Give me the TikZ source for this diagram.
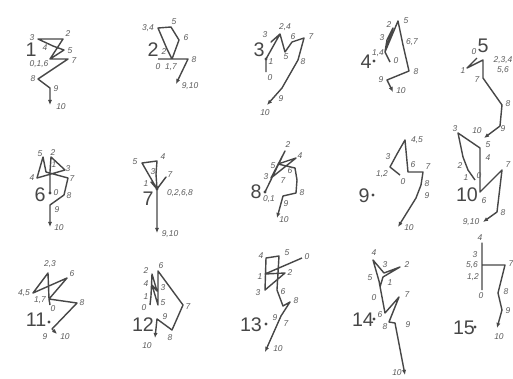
\documentclass[tikz,border=0pt]{standalone}
\usepackage{fontspec}
\setmainfont{Liberation Sans}
\usetikzlibrary{arrows.meta}
\definecolor{ink}{HTML}{474747}
\definecolor{inkgray}{HTML}{5C5C5C}
\definecolor{paper}{HTML}{FFFFFF}

\begin{document}
\begin{tikzpicture}[x=0.25mm,y=-0.25mm,>={Latex[length=3.6pt,width=3pt]},
  trace/.style={draw=ink,line width=1pt,line join=round,->},
  lab/.style={font=\fontsize{6}{6}\selectfont\itshape,text=inkgray,inner sep=0pt},
  numeral/.style={font=\fontsize{14}{14}\selectfont,text=ink,inner sep=0pt},
  dotmark/.style={circle,fill=ink,inner sep=0pt,minimum size=2.4pt}]
  \useasboundingbox[fill=paper] (0,0) rectangle (513,379);

  % 1
  \node[numeral] (n1) at (31,50) {1};
  \foreach \k/\x/\y in {0/50/59,1/50/59,2/63/39,3/38/39,4/53/46,5/64/50,6/50/59,7/68/59,8/38/79,9/50/88,10/50/105}
    \coordinate (f1-\k) at (\x,\y);
  \draw[trace] (f1-0) \foreach \k in {1,...,10} {-- (f1-\k)};
  \foreach \t/\x/\y [count=\i] in {3/32/38,2/68/34,4/45/48,5/70/51,{0,1,6}/39/64,7/74/61,8/33/79,9/56/89,10/61/107}
    \node[lab] (f1-l\i) at (\x,\y) {\t};

  % 2
  \node[numeral] (n2) at (153,50) {2};
  \foreach \k/\x/\y in {0/158/59,1/172/59,2/167/49,3/158/28,4/158/28,5/171/27,6/179/40,7/172/59,8/188/59,9/176/84,10/176/84}
    \coordinate (f2-\k) at (\x,\y);
  \draw[trace] (f2-0) \foreach \k in {1,...,8,10} {-- (f2-\k)};
  \foreach \t/\x/\y [count=\i] in {{3,4}/148/28,5/174/22,2/164/52,0/158/67,{1,7}/171/67,6/186/38,8/194/60,{9,10}/190/86}
    \node[lab] (f2-l\i) at (\x,\y) {\t};

  % 3
  \node[numeral] (n3) at (259,50) {3};
  \foreach \k/\x/\y in {0/266/72,1/266/59,2/280/34,3/271/42,4/280/34,5/285/52,6/292/42,7/304/38,8/298/60,9/282/88,10/267/105}
    \coordinate (f3-\k) at (\x,\y);
  \draw[trace] (f3-0) \foreach \k in {1,...,10} {-- (f3-\k)};
  \node[dotmark] (f3-d) at (f3-1) {};
  \foreach \t/\x/\y [count=\i] in {0/270/78,1/271/62,{2,4}/285/27,3/265/35,5/286/57,6/293/37,7/311/37,8/303/62,9/281/99,10/265/113}
    \node[lab] (f3-l\i) at (\x,\y) {\t};

  % 4
  \node[numeral] (n4) at (366,62) {4};
  \node[dotmark] (n4-d) at (374,61) {};
  \foreach \k/\x/\y in {0/390/62,1/385/52,2/393/28,3/387/40,4/385/52,5/398/21,6/403/45,7/403/45,8/409/71,9/387/80,10/393/92}
    \coordinate (f4-\k) at (\x,\y);
  \draw[trace] (f4-0) \foreach \k in {1,...,10} {-- (f4-\k)};
  \foreach \t/\x/\y [count=\i] in {{1,4}/378/53,2/389/25,3/382/38,5/406/21,{6,7}/412/42,0/396/61,8/416/72,9/381/80,10/401/91}
    \node[lab] (f4-l\i) at (\x,\y) {\t};

  % 5
  \node[numeral] (n5) at (483,46) {5};
  \foreach \k/\x/\y in {0/477/58,1/467/68,2/483/60,3/483/60,4/483/60,5/483/60,6/483/60,7/483/78,8/502/105,9/500/126,10/484/138}
    \coordinate (f5-\k) at (\x,\y);
  \draw[trace] (f5-0) \foreach \k in {1,...,10} {-- (f5-\k)};
  \foreach \t/\x/\y [count=\i] in {0/474/52,1/463/71,{2,3,4}/503/60,{5,6}/503/70,7/477/80,8/508/104,9/503/129,10/477/131}
    \node[lab] (f5-l\i) at (\x,\y) {\t};

  % 6
  \node[numeral] (n6) at (40,195) {6};
  \foreach \k/\x/\y in {0/50/193,1/50/172,2/51/157,3/65/170,4/37/178,5/43/157,6/46/172,7/68/178,8/64/195,9/50/205,10/50/227}
    \coordinate (f6-\k) at (\x,\y);
  \draw[trace] (f6-0) \foreach \k in {1,...,10} {-- (f6-\k)};
  \node[dotmark] (f6-d) at (f6-0) {};
  \foreach \t/\x/\y [count=\i] in {5/40/154,2/53/153,1/54/165,3/68/169,4/32/178,7/72/179,0/56/193,8/69/196,9/57/210,10/59/228}
    \node[lab] (f6-l\i) at (\x,\y) {\t};

  % 7
  \node[numeral] (n7) at (148,199) {7};
  \foreach \k/\x/\y in {0/157/189,1/151/182,2/157/189,3/156/174,4/157/161,5/142/163,6/157/189,7/166/177,8/157/189,9/157/233,10/157/233}
    \coordinate (f7-\k) at (\x,\y);
  \draw[trace] (f7-0) \foreach \k in {1,...,8,10} {-- (f7-\k)};
  \node[dotmark] (f7-d) at (f7-0) {};
  \foreach \t/\x/\y [count=\i] in {5/135/162,4/163/157,3/153/172,1/146/184,7/170/175,{0,2,6,8}/180/193,{9,10}/170/234}
    \node[lab] (f7-l\i) at (\x,\y) {\t};

  % 8
  \node[numeral] (n8) at (256,192) {8};
  \foreach \k/\x/\y in {0/265/192,1/265/192,2/285/151,3/271/178,4/296/158,5/278/164,6/295/168,7/297/180,8/296/193,9/283/196,10/277/218}
    \coordinate (f8-\k) at (\x,\y);
  \draw[trace] (f8-0) \foreach \k in {1,...,10} {-- (f8-\k)};
  \node[dotmark] (f8-d) at (f8-0) {};
  \foreach \t/\x/\y [count=\i] in {{0,1}/269/199,3/266/177,5/273/166,2/288/145,4/300/156,6/290/171,7/283/181,8/302/193,9/286/204,10/284/220}
    \node[lab] (f8-l\i) at (\x,\y) {\t};

  % 9
  \node[numeral] (n9) at (364,196) {9};
  \node[dotmark] (n9-d) at (373,195) {};
  \foreach \k/\x/\y in {0/400/175,1/390/167,2/390/167,3/397/154,4/405/140,5/405/140,6/408/172,7/423/172,8/421/185,9/416/198,10/398/227}
    \coordinate (f9-\k) at (\x,\y);
  \draw[trace] (f9-0) \foreach \k in {1,...,10} {-- (f9-\k)};
  \foreach \t/\x/\y [count=\i] in {0/403/182,{1,2}/382/174,3/388/157,{4,5}/417/140,6/413/165,7/428/167,8/427/184,9/427/196,10/409/228}
    \node[lab] (f9-l\i) at (\x,\y) {\t};

  % 10
  \node[numeral] (n10) at (467,195) {10};
  \foreach \k/\x/\y in {0/475/180,1/468/170,2/463/157,3/458/133,4/480/148,5/480/155,6/480/192,7/502/170,8/497/212,9/483/222,10/483/222}
    \coordinate (f10-\k) at (\x,\y);
  \draw[trace] (f10-0) \foreach \k in {1,...,8,10} {-- (f10-\k)};
  \foreach \t/\x/\y [count=\i] in {3/455/129,5/488/145,4/488/158,2/460/166,1/466/178,0/479/176,6/484/201,7/508/165,8/503/213,{9,10}/471/222}
    \node[lab] (f10-l\i) at (\x,\y) {\t};

  % 11
  \node[numeral] (n11) at (36,320) {11};
  \node[dotmark] (n11-d) at (49,322) {};
  \foreach \k/\x/\y in {0/50/305,1/49/299,2/48/273,3/48/273,4/33/293,5/33/293,6/67/278,7/49/299,8/77/303,9/52/329,10/57/334}
    \coordinate (f11-\k) at (\x,\y);
  \draw[trace] (f11-0) \foreach \k in {1,...,10} {-- (f11-\k)};
  \foreach \t/\x/\y [count=\i] in {{2,3}/50/264,6/72/274,{4,5}/24/293,{1,7}/40/300,0/53/309,8/82/303,9/45/337,10/65/337}
    \node[lab] (f11-l\i) at (\x,\y) {\t};

  % 12
  \node[numeral] (n12) at (143,325) {12};
  \foreach \k/\x/\y in {0/150/305,1/151/296,2/152/274,3/157/291,4/152/285,5/158/305,6/158/271,7/183/305,8/172/330,9/157/319,10/155/338}
    \coordinate (f12-\k) at (\x,\y);
  \draw[trace] (f12-0) \foreach \k in {1,...,10} {-- (f12-\k)};
  \foreach \t/\x/\y [count=\i] in {2/146/271,6/161/266,4/146/284,3/163/288,1/146/297,0/144/308,5/163/303,9/165/317,8/170/338,7/188/307,10/147/346}
    \node[lab] (f12-l\i) at (\x,\y) {\t};

  % 13
  \node[numeral] (n13) at (251,325) {13};
  \node[dotmark] (n13-d) at (266,324) {};
  \foreach \k/\x/\y in {0/302/258,1/265/274,2/285/273,3/265/290,4/266/258,5/279/256,6/277/290,7/283/306,8/290/302,9/281/316,10/265/352}
    \coordinate (f13-\k) at (\x,\y);
  \draw[trace] (f13-0) \foreach \k in {1,...,10} {-- (f13-\k)};
  \foreach \t/\x/\y [count=\i] in {4/261/256,5/287/253,0/307/257,1/260/277,2/290/273,3/258/293,6/283/292,8/296/301,9/275/318,7/286/324,10/278/349}
    \node[lab] (f13-l\i) at (\x,\y) {\t};

  % 14
  \node[numeral] (n14) at (363,320) {14};
  \node[dotmark] (n14-d) at (374,319) {};
  \foreach \k/\x/\y in {0/380/287,1/383/277,2/400/267,3/384/273,4/373/260,5/379/281,6/385/313,7/399/297,8/389/322,9/395/323,10/405/375}
    \coordinate (f14-\k) at (\x,\y);
  \draw[trace] (f14-0) \foreach \k in {1,...,10} {-- (f14-\k)};
  \foreach \t/\x/\y [count=\i] in {4/374/253,3/385/265,2/407/265,5/370/278,1/390/283,0/374/298,7/407/295,6/380/315,8/385/327,9/408/325,10/397/373}
    \node[lab] (f14-l\i) at (\x,\y) {\t};

  % 15
  \node[numeral] (n15) at (464,328) {15};
  \node[dotmark] (n15-d) at (475,327) {};
  \foreach \k/\x/\y in {0/482/290,1/482/277,2/482/277,3/482/255,4/482/243,5/482/265,6/482/265,7/505/265,8/498/293,9/502/310,10/497/328}
    \coordinate (f15-\k) at (\x,\y);
  \draw[trace] (f15-0) \foreach \k in {1,...,10} {-- (f15-\k)};
  \foreach \t/\x/\y [count=\i] in {4/480/238,3/475/255,{5,6}/472/265,{1,2}/473/277,0/481/296,7/511/264,8/506/292,9/508/311,10/499/337}
    \node[lab] (f15-l\i) at (\x,\y) {\t};
\end{tikzpicture}
\end{document}
